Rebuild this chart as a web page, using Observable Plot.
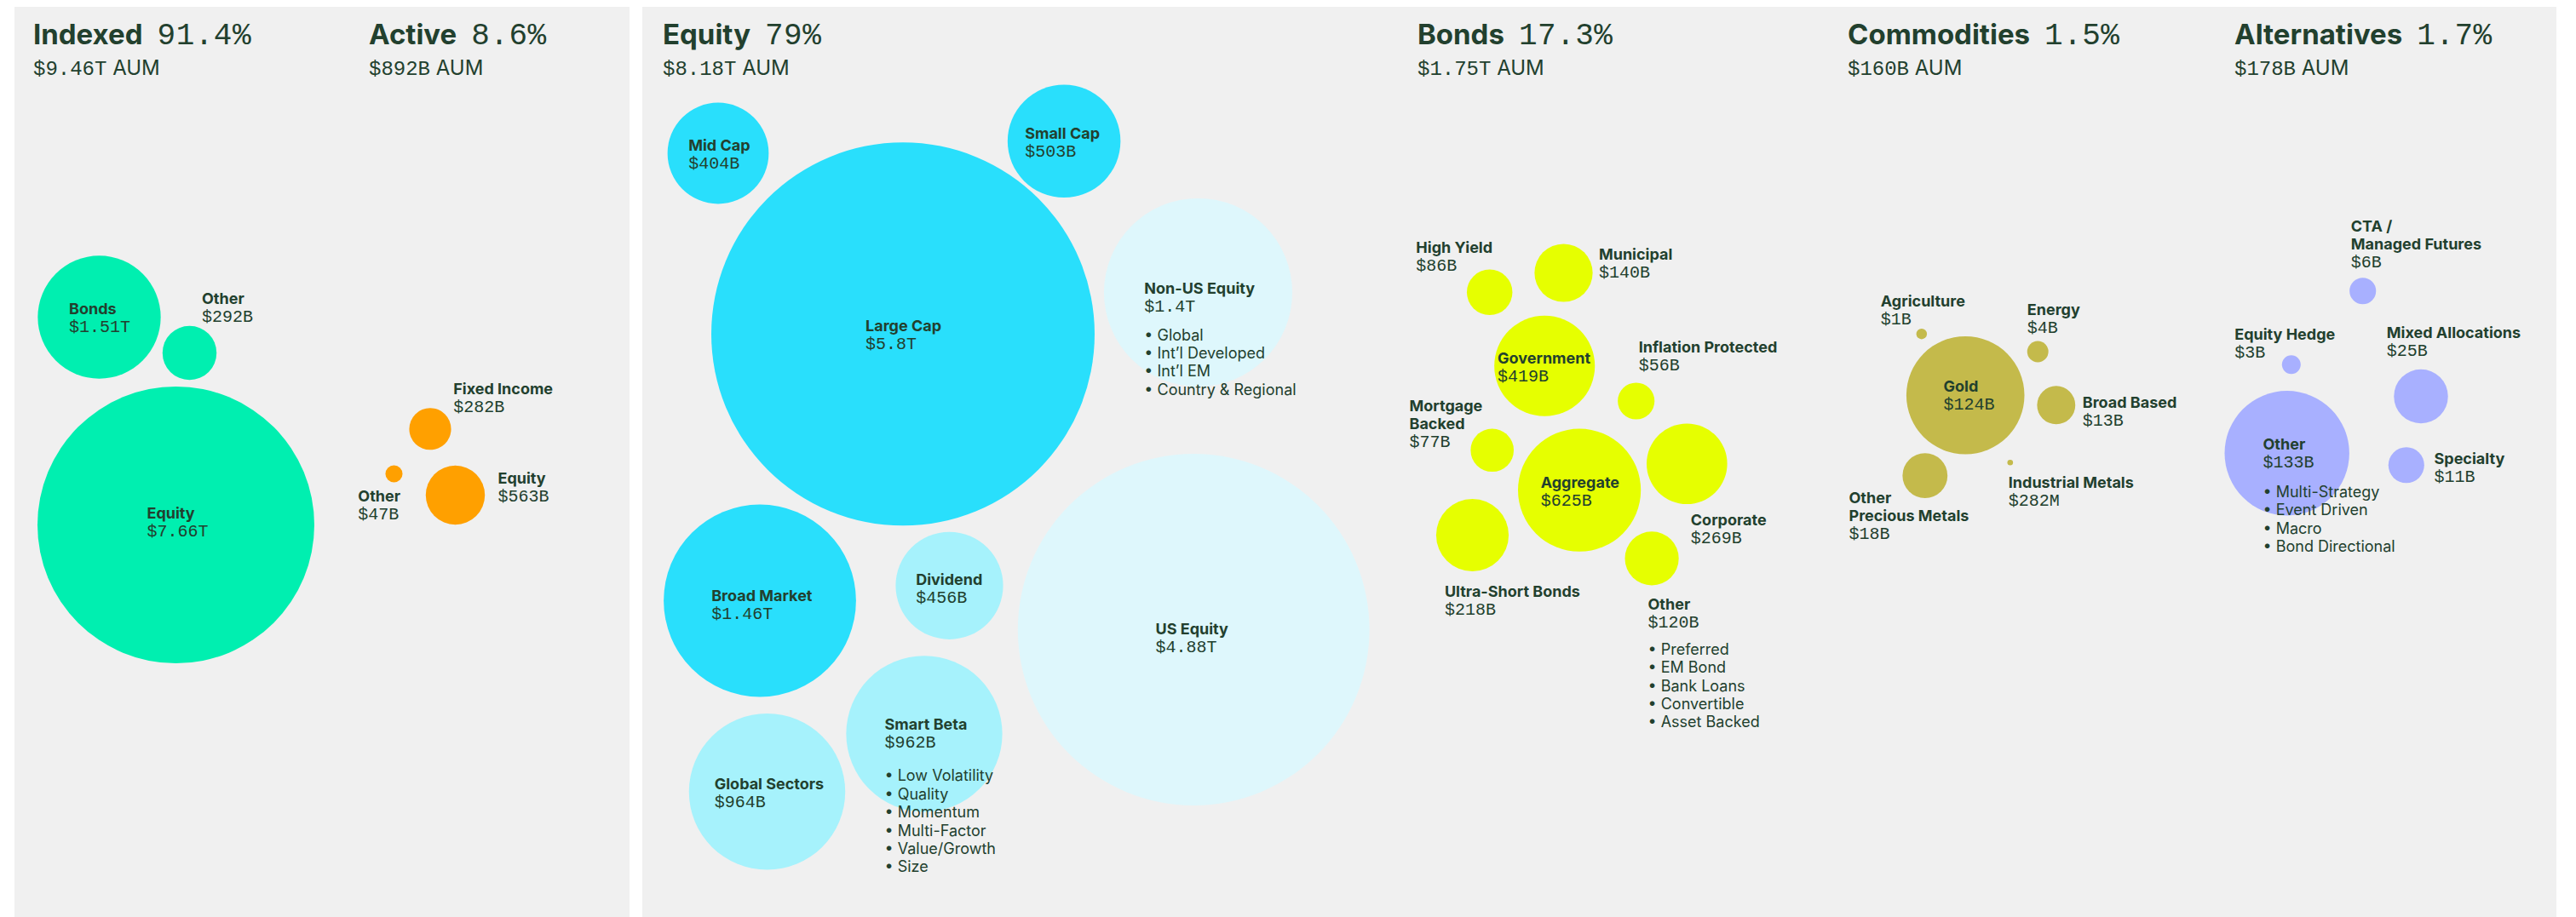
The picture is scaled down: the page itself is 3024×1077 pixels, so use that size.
<!DOCTYPE html>
<html>
<head>
<meta charset="utf-8">
<script src="https://cdn.jsdelivr.net/npm/d3@7"></script>
<script src="https://cdn.jsdelivr.net/npm/@observablehq/plot@0.6"></script>
<style>
  html, body { margin: 0; padding: 0; background: #ffffff; }
  #stage { position: relative; width: 3024px; height: 1077px; overflow: hidden; }
  #stage > svg { position: absolute; left: 0; top: 0; }
</style>
</head>
<body>
<div id="stage"></div>
<script>
// ---------------- DATA ----------------
// Panel headers
const headNames  = ["Indexed", "Active", "Equity", "Bonds", "Commodities", "Alternatives"];
const headShares = ["91.4%", "8.6%", "79%", "17.3%", "1.5%", "1.7%"];
const headAUM    = ["$9.46T", "$892B", "$8.18T", "$1.75T", "$160B", "$178B"];

// Indexed vs Active (values in $B)
const indexedNames  = ["Bonds", "Other", "Equity"];
const indexedValues = [1510, 292, 7660];
const indexedLabels = ["$1.51T", "$292B", "$7.66T"];

const activeNames  = ["Fixed Income", "Other", "Equity"];
const activeValues = [282, 47, 563];
const activeLabels = ["$282B", "$47B", "$563B"];

// Equity breakdown
const equityNames  = ["Mid Cap", "Small Cap", "Large Cap", "Non-US Equity", "Broad Market", "Dividend", "US Equity", "Smart Beta", "Global Sectors"];
const equityValues = [404, 503, 5800, 1400, 1460, 456, 4880, 962, 964];
const equityLabels = ["$404B", "$503B", "$5.8T", "$1.4T", "$1.46T", "$456B", "$4.88T", "$962B", "$964B"];
const equityKinds  = ["Size", "Size", "Size", "Region", "Size", "Strategy", "Region", "Strategy", "Strategy"];
const nonUSBullets     = ["Global", "Int\u2019l Developed", "Int\u2019l EM", "Country & Regional"];
const smartBetaBullets = ["Low Volatility", "Quality", "Momentum", "Multi-Factor", "Value/Growth", "Size"];

// Bonds breakdown
const bondNames  = ["High Yield", "Municipal", "Government", "Inflation Protected", "Mortgage\nBacked", "Aggregate", "Corporate", "Ultra-Short Bonds", "Other"];
const bondValues = [86, 140, 419, 56, 77, 625, 269, 218, 120];
const bondLabels = ["$86B", "$140B", "$419B", "$56B", "$77B", "$625B", "$269B", "$218B", "$120B"];
const bondOtherBullets = ["Preferred", "EM Bond", "Bank Loans", "Convertible", "Asset Backed"];

// Commodities breakdown
const commodityNames  = ["Agriculture", "Energy", "Gold", "Broad Based", "Other\nPrecious Metals", "Industrial Metals"];
const commodityValues = [1, 4, 124, 13, 18, 0.282];
const commodityLabels = ["$1B", "$4B", "$124B", "$13B", "$18B", "$282M"];

// Alternatives breakdown
const altNames  = ["CTA /\nManaged Futures", "Equity Hedge", "Mixed Allocations", "Other", "Specialty"];
const altValues = [6, 3, 25, 133, 11];
const altLabels = ["$6B", "$3B", "$25B", "$133B", "$11B"];
const altOtherBullets = ["Multi-Strategy", "Event Driven", "Macro", "Bond Directional"];

// ---------------- LAYOUT (hand placement of bubbles and label anchors) ----------------
// [bubble cx, bubble cy, label x, label baseline y, bullet offset]
const W = 3024, H = 1077;
const indexedLayout = [[116, 372, 80.5, 368.7], [222, 414, 236.5, 356.9], [206, 616, 172, 608]];
const activeLayout  = [[504.5, 503.3, 531.7, 462], [462, 556, 419.8, 588.5], [534, 581, 584, 567.5]];
const equityLayout  = [
  [842.5, 179.5, 807.7, 176.7], [1248.6, 165.3, 1202.7, 162.1], [1059.5, 391.8, 1015.5, 388.3],
  [1406, 343, 1342.8, 344.8, 39], [891.5, 705, 834.7, 705.7], [1114, 687.3, 1074.7, 686.7],
  [1400.7, 739, 1356, 744], [1084.5, 861.3, 1038, 856.7, 45], [900, 929.3, 838.2, 926.7]
];
const bondLayout = [
  [1748.2, 342.8, 1661.8, 296.8], [1835, 320, 1876.4, 304.3], [1812.7, 429.3, 1757.5, 426],
  [1920.2, 470.5, 1923.2, 413.8], [1751.2, 528.3, 1654, 503.2], [1853.6, 575.2, 1808.2, 572.4],
  [1979.8, 544.2, 1984.3, 616.7], [1728, 628, 1695.4, 700.9], [1938.6, 655.4, 1934, 715.5, 37.5]
];
const commodityLayout = [
  [2255.3, 391.7, 2207.3, 359], [2391.7, 412.5, 2379.3, 369], [2306.7, 463.7, 2281, 459],
  [2413.3, 475.3, 2444.3, 478.3], [2259.3, 558.2, 2170, 611.7], [2359.3, 542.7, 2357.3, 572.3]
];
const altLayout = [
  [2773.2, 341.3, 2759.3, 292.7], [2689.3, 427.7, 2622.7, 398.3], [2841.5, 465, 2801.3, 396.7],
  [2684.2, 531.8, 2656, 527.3, 41], [2824.3, 545.8, 2857, 544]
];
const headX = [39, 433, 778, 1664, 2169, 2623];

// ---------------- STYLE ----------------
const INK = "#22402e";
const SANS = "Inter, 'Noto Sans', sans-serif";
const MONO = "'Liberation Mono', 'DejaVu Sans Mono', monospace";

const stage = document.getElementById("stage");

// Background panels + headers
const bg = d3.create("svg").attr("width", W).attr("height", H);
bg.append("rect").attr("x", 17).attr("y", 8).attr("width", 722).attr("height", H).attr("fill", "#f0f0f0");
bg.append("rect").attr("x", 754).attr("y", 8).attr("width", 2247).attr("height", H).attr("fill", "#f0f0f0");
headNames.forEach((name, i) => {
  const t = bg.append("text").attr("x", headX[i]).attr("y", 52).attr("fill", INK);
  t.append("tspan").attr("font-family", SANS).attr("font-weight", 700).attr("font-size", 33).text(name);
  t.append("tspan").attr("dx", 17).attr("font-family", MONO).attr("font-size", 36).attr("letter-spacing", 0.5).text(headShares[i]);
  const s = bg.append("text").attr("x", headX[i]).attr("y", 88).attr("fill", INK);
  s.append("tspan").attr("font-family", MONO).attr("font-size", 24).text(headAUM[i]);
  s.append("tspan").attr("font-family", SANS).attr("font-size", 24).text(" AUM");
});
stage.appendChild(bg.node());

function bubbleLayer(g) {
  const rows = g.names.map((name, i) => ({
    name,
    value: g.values[i],
    label: g.labels[i],
    kind: g.kinds ? g.kinds[i] : g.key,
    bullets: g.bullets ? g.bullets[i] : null,
    cx: g.layout[i][0], cy: g.layout[i][1],
    lx: g.layout[i][2], ly: g.layout[i][3],
    bdy: g.layout[i][4] || 0
  }));
  const withBullets = rows.filter(d => d.bullets);
  return Plot.plot({
    width: W, height: H, margin: 0,
    style: {background: "transparent", overflow: "visible", maxWidth: "none"},
    x: {domain: [0, W], axis: null},
    y: {domain: [0, H], range: [0, H], axis: null},
    r: {type: "sqrt", domain: [0, d3.max(g.values)], range: [0, g.rMax]},
    color: {domain: g.colorDomain, range: g.colorRange},
    marks: [
      Plot.dot(rows, {x: "cx", y: "cy", r: "value", fill: "kind", stroke: "none"}),
      Plot.text(rows, {x: "lx", y: "ly", text: "name", textAnchor: "start", lineAnchor: "bottom",
        lineHeight: 21 / 18, fontFamily: SANS, fontWeight: 700, fontSize: 18, fill: INK}),
      Plot.text(rows, {x: "lx", y: "ly", dy: 21, text: "label", textAnchor: "start", lineAnchor: "bottom",
        fontFamily: MONO, fontSize: 20, fill: INK}),
      Plot.text(withBullets, {x: "lx", y: d => d.ly + d.bdy, text: d => d.bullets.map(b => "\u2022 " + b).join("\n"),
        textAnchor: "start", lineAnchor: "top", lineHeight: 1.19, fontFamily: SANS, fontSize: 18, fill: INK})
    ]
  });
}

const groups = [
  {key: "Indexed", names: indexedNames, values: indexedValues, labels: indexedLabels, layout: indexedLayout,
   rMax: 162.5, colorDomain: ["Indexed"], colorRange: ["#00efb0"]},
  {key: "Active", names: activeNames, values: activeValues, labels: activeLabels, layout: activeLayout,
   rMax: 34.7, colorDomain: ["Active"], colorRange: ["#ffa000"]},
  {key: "Equity", names: equityNames, values: equityValues, labels: equityLabels, layout: equityLayout,
   kinds: equityKinds, bullets: [null, null, null, nonUSBullets, null, null, null, smartBetaBullets, null],
   rMax: 225, colorDomain: ["Size", "Strategy", "Region"], colorRange: ["#29dffc", "#a6f2fc", "#def7fc"]},
  {key: "Bonds", names: bondNames, values: bondValues, labels: bondLabels, layout: bondLayout,
   bullets: [null, null, null, null, null, null, null, null, bondOtherBullets],
   rMax: 72.1, colorDomain: ["Bonds"], colorRange: ["#e6ff00"]},
  {key: "Commodities", names: commodityNames, values: commodityValues, labels: commodityLabels, layout: commodityLayout,
   rMax: 69.3, colorDomain: ["Commodities"], colorRange: ["#c4ba4b"]},
  {key: "Alternatives", names: altNames, values: altValues, labels: altLabels, layout: altLayout,
   bullets: [null, null, null, altOtherBullets, null],
   rMax: 73.2, colorDomain: ["Alternatives"], colorRange: ["#a8b0ff"]}
];

for (const g of groups) stage.appendChild(bubbleLayer(g));
</script>
</body>
</html>
